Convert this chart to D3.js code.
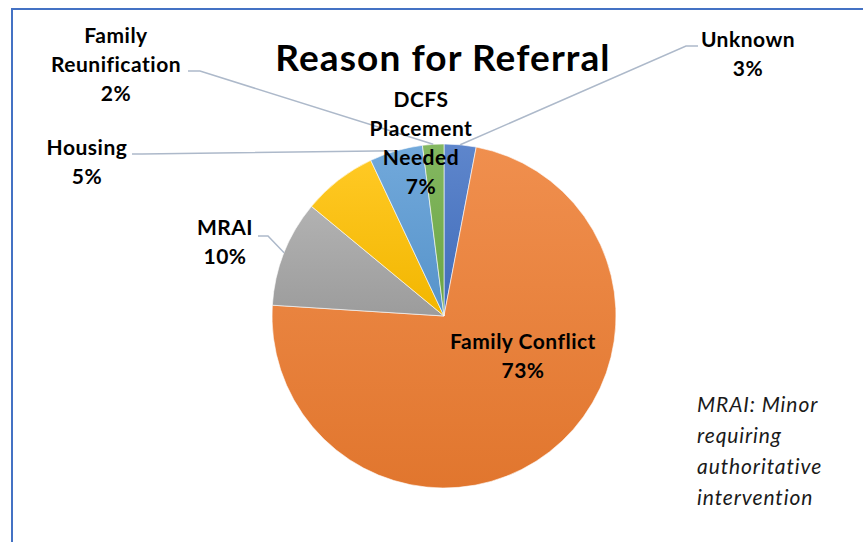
<!DOCTYPE html>
<html>
<head>
<meta charset="utf-8">
<script src="https://cdn.jsdelivr.net/npm/d3@7"></script>
<style>
	html, body { margin: 0; padding: 0; background: #fff; }
	svg { display: block; font-family: Lato, Carlito, Calibri, sans-serif; }
</style>
</head>
<body>
<div id="chart"></div>
<script>
// Data
const categories = ['Unknown', 'Family Conflict', 'MRAI', 'DCFS Placement Needed', 'Housing', 'Family Reunification'];
const percents = [3, 73, 10, 7, 5, 2];
const colors = ['#4472C4', '#ED7D31', '#A5A5A5', '#FFC000', '#5B9BD5', '#70AD47'];
const labelLines = [
	['Unknown', '3%'],
	['Family Conflict', '73%'],
	['MRAI', '10%'],
	['DCFS', 'Placement', 'Needed', '7%'],
	['Housing', '5%'],
	['Family', 'Reunification', '2%'],
];
const noteLines = ['MRAI: Minor', 'requiring', 'authoritative', 'intervention'];

// Layout (label anchors + leader elbows, per slice)
const labelLayout = [
	{ x: 748, y: 47, elbow: [[698, 46], [686, 46]] },
	{ x: 523, y: 349, elbow: null },
	{ x: 225, y: 235, elbow: [[258, 236], [268, 236]] },
	{ x: 421, y: 107, elbow: null },
	{ x: 87, y: 155, elbow: [[132, 154], [142, 154]] },
	{ x: 116, y: 43, elbow: [[188, 71], [200, 71]] },
];

const width = 863;
const height = 542;
const cx = 444;
const cy = 316;
const radius = 172;

const svg = d3.select('#chart').append('svg').attr('width', width).attr('height', height);

// Frame (runs off right / bottom)
svg.append('rect').attr('x', 12).attr('y', 9).attr('width', 900).attr('height', 600).attr('fill', 'none').attr('stroke', '#4472C4').attr('stroke-width', 2);

// Gradients per slice
const defs = svg.append('defs');
colors.forEach((c, i) => {
	const g = defs.append('linearGradient').attr('id', 'grad' + i).attr('x1', 0).attr('y1', 0).attr('x2', 0).attr('y2', 1);
	g.append('stop').attr('offset', '0%').attr('stop-color', d3.interpolateRgb(c, '#fff')(0.14));
	g.append('stop').attr('offset', '100%').attr('stop-color', d3.color(c).darker(0.15));
});

const data = categories.map((name, i) => ({ name, value: percents[i], i }));
const pie = d3.pie().value((d) => d.value).sort(null);
const arc = d3.arc().innerRadius(0).outerRadius(radius);
const arcs = pie(data);

const group = svg.append('g').attr('transform', `translate(${cx},${cy})`);

group
	.selectAll('path.slice')
	.data(arcs)
	.enter()
	.append('path')
	.attr('class', 'slice')
	.attr('d', arc)
	.attr('fill', (d) => `url(#grad${d.data.i})`)
	.attr('stroke', '#fff')
	.attr('stroke-width', 0.6);

// Leader lines
arcs.forEach((d) => {
	const lay = labelLayout[d.data.i];
	if (!lay.elbow) return;
	const mid = (d.startAngle + d.endAngle) / 2;
	const px = cx + radius * Math.sin(mid);
	const py = cy - radius * Math.cos(mid);
	const pts = [...lay.elbow, [px, py]];
	svg.append('path').attr('d', d3.line()(pts)).attr('fill', 'none').attr('stroke', '#adb9ca').attr('stroke-width', 1.5);
});

// Title
svg
	.append('text')
	.attr('x', 443)
	.attr('y', 71)
	.attr('text-anchor', 'middle')
	.attr('font-size', 37)
	.attr('font-weight', 'bold')
	.attr('letter-spacing', 1.1)
	.attr('fill', '#000')
	.text('Reason for Referral');

// Data labels
arcs.forEach((d) => {
	const lay = labelLayout[d.data.i];
	const t = svg.append('text').attr('text-anchor', 'middle').attr('font-size', 21).attr('font-weight', 'bold').attr('letter-spacing', 0.5).attr('fill', '#000');
	labelLines[d.data.i].forEach((line, k) => {
		t.append('tspan').attr('x', lay.x).attr('y', lay.y + k * 29).text(line);
	});
});

// Note
const note = svg.append('text').attr('font-size', 21).attr('font-style', 'italic').attr('letter-spacing', 0.9).attr('fill', '#1a1a1a');
noteLines.forEach((line, k) => {
	note.append('tspan').attr('x', 697).attr('y', 412 + k * 31).text(line);
});
</script>
</body>
</html>
